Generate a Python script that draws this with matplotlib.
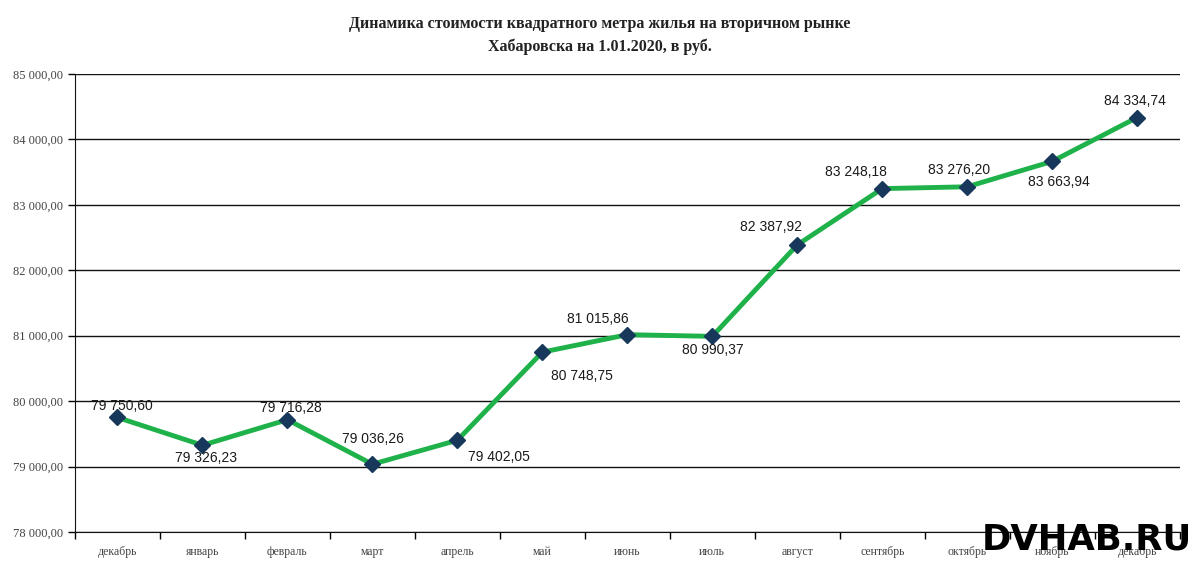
import matplotlib
matplotlib.use('Agg')
import matplotlib.pyplot as plt

months = ['декабрь', 'январь', 'февраль', 'март', 'апрель', 'май', 'июнь',
          'июль', 'август', 'сентябрь', 'октябрь', 'ноябрь', 'декабрь']
price = [79750.60, 79326.23, 79716.28, 79036.26, 79402.05, 80748.75, 81015.86,
         80990.37, 82387.92, 83248.18, 83276.20, 83663.94, 84334.74]
yticks = [78000, 79000, 80000, 81000, 82000, 83000, 84000, 85000]

# label offsets in pixels (dx, dy)
offs = [(4, 11), (4, -13), (3, 12), (1, 25), (42, -17), (40, -24), (-29, 16),
        (1, -14), (-26, 18), (-26, 17), (-8, 17), (7, -21), (-2, 17)]


def fmt(v):
    s = '{:,.2f}'.format(v)
    return s.replace(',', ' ').replace('.', ',')


fig = plt.figure(figsize=(12, 5.67), dpi=100)
ax = fig.add_axes([0.0625, 0.0617, 0.9205, 0.8078])

x = list(range(len(months)))
ax.plot(x, price, color='#1fb24a', lw=3.5, zorder=3)
ax.plot(x, price, ls='none', marker='D', ms=8.5, color='#17385a', zorder=4)

for i, v in enumerate(price):
    ax.annotate(fmt(v), (i, v), xytext=offs[i], textcoords='offset pixels',
                ha='center', va='center', fontsize=10, family='Liberation Sans',
                color='#1a1a1a', zorder=5)

ax.set_xlim(-0.5, len(months) - 0.5)
ax.set_ylim(78000, 85000)
ax.set_yticks(yticks)
ax.set_yticklabels([fmt(v) for v in yticks], family='Liberation Serif',
                   fontsize=9, color='#444444')
ax.set_xticks(x)
ax.set_xticklabels(months, family='Liberation Serif', fontsize=8.5, color='#444444')
ax.set_xticks([i - 0.5 for i in range(len(months) + 1)], minor=True)
ax.tick_params(axis='x', which='major', length=0, pad=10)
ax.tick_params(axis='x', which='minor', length=5, width=1, direction='out')
ax.tick_params(axis='y', length=5, width=1, direction='out')
ax.yaxis.grid(True, color='#111111', lw=1)
ax.set_axisbelow(True)
for s in ['top', 'right']:
    ax.spines[s].set_visible(False)
ax.spines['left'].set_color('#111111')
ax.spines['bottom'].set_color('#111111')

fig.text(0.5, 0.958, 'Динамика стоимости квадратного метра жилья на вторичном рынке',
         ha='center', va='center', family='Liberation Serif', weight='bold',
         fontsize=11.5, color='#222222')
fig.text(0.5, 0.918, 'Хабаровска на 1.01.2020, в руб.',
         ha='center', va='center', family='Liberation Serif', weight='bold',
         fontsize=11.5, color='#222222')

# watermark
fig.text(0.993, 0.048, 'DVHAB.RU', ha='right', va='center',
         family='DejaVu Sans', weight='bold', fontsize=25.5, color='black')

fig.savefig('out.png', dpi=100, facecolor='white')
